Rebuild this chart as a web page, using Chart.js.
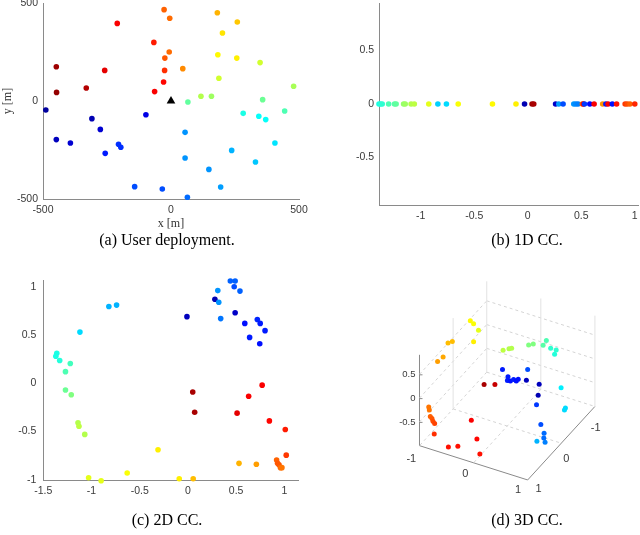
<!DOCTYPE html>
<html><head><meta charset="utf-8">
<script src="https://cdn.jsdelivr.net/npm/chart.js@4/dist/chart.umd.min.js"></script>
<style>
html,body{margin:0;padding:0;width:640px;height:535px;overflow:hidden;background:#fff;}
#wrap{position:relative;width:640px;height:535px;overflow:hidden;}
canvas{position:absolute;}
.cap{position:absolute;font-family:"Liberation Serif","Times New Roman",serif;font-size:16px;line-height:18px;color:#000;white-space:nowrap;transform:translateX(-50%);}
</style></head><body>
<div id="wrap">
<canvas id="ca" width="360" height="250" style="left:-20px;top:-15px"></canvas>
<canvas id="cb" width="340" height="250" style="left:320px;top:-15px"></canvas>
<canvas id="cc" width="360" height="280" style="left:-20px;top:265px"></canvas>
<canvas id="cd" width="300" height="250" style="left:340px;top:270px"></canvas>
<div class="cap" style="left:167px;top:231px">(a) User deployment.</div>
<div class="cap" style="left:527px;top:231px">(b) 1D CC.</div>
<div class="cap" style="left:167px;top:511px">(c) 2D CC.</div>
<div class="cap" style="left:527px;top:511px">(d) 3D CC.</div>
</div>
<script>
// ---------- (a) user deployment ----------
const A_X = [-27,-5,181,259,201,-210,-67,-7,-24,-25,46,183,257,348,187,479,117,158,358,66,444,282,343,370,406,55,55,237,330,148,194,64,-34,-142,-98,-205,-196,-257,-276,-309,-393,-448,-489,-448,-447,-331,-259,-29,-64];
const A_Y = [466,422,450,403,347,396,299,250,219,156,165,236,219,196,116,75,24,24,7,-5,-51,-63,-78,-95,-214,-160,-291,-252,-311,-349,-439,-491,-449,-437,-70,-221,-236,-267,-145,-90,-214,-197,-46,175,44,66,156,97,48];
const A_C = [0.78,0.77,0.7,0.68,0.65,0.88,0.85,0.77,0.79,0.83,0.74,0.63,0.64,0.58,0.58,0.54,0.55,0.53,0.48,0.47,0.45,0.4,0.38,0.38,0.35,0.27,0.27,0.3,0.32,0.27,0.28,0.23,0.2,0.2,0.1,0.17,0.17,0.15,0.08,0.05,0.08,0.06,0.03,0.97,0.98,0.95,0.9,0.87,0.88];
const BS_X = [0], BS_Y = [0];
const A_XTICKS = [-500,0,500], A_XLABELS = ['-500','0','500'];
const A_YTICKS = [-500,0,500], A_YLABELS = ['-500','0','500'];

// ---------- (b) 1D channel charting ----------
const B_X = [-1.39,-1.375,-1.36,-1.30,-1.245,-1.23,-1.16,-1.145,-1.09,-1.06,-0.925,-0.84,-0.76,-0.65,-0.33,-0.11,-0.03,0.04,0.056,0.26,0.29,0.33,0.43,0.45,0.47,0.51,0.52,0.53,0.58,0.62,0.70,0.73,0.75,0.79,0.83,0.91,0.93,0.955,1.0];
const B_C = [0.4,0.41,0.42,0.45,0.46,0.47,0.52,0.53,0.55,0.56,0.6,0.33,0.34,0.62,0.63,0.64,0.05,0.97,0.96,0.07,0.28,0.2,0.27,0.26,0.25,0.77,0.87,0.18,0.13,0.88,0.73,0.15,0.88,0.14,0.86,0.82,0.8,0.78,0.84];
const B_XTICKS = [-1,-0.5,0,0.5,1], B_XLABELS = ['-1','-0.5','0','0.5','1'];
const B_YTICKS = [-0.5,0,0.5], B_YLABELS = ['-0.5','0','0.5'];

// ---------- (c) 2D channel charting ----------
const C_X = [0.44,0.49,0.48,0.54,0.31,0.28,0.32,0.34,0.49,-0.01,0.59,0.72,0.75,0.80,0.64,0.745,-0.82,-0.74,-1.12,-1.36,-1.37,-1.33,-1.22,-1.27,-1.27,-1.21,-1.14,-1.13,-1.07,-1.03,-0.90,-0.63,-0.31,-0.09,0.055,0.53,0.71,0.92,0.93,0.945,0.96,0.975,1.02,1.01,0.845,0.51,0.63,0.77,0.05,0.07];
const C_Y = [1.06,1.06,1.00,0.955,0.96,0.87,0.84,0.67,0.73,0.69,0.62,0.66,0.62,0.545,0.475,0.41,0.795,0.81,0.53,0.31,0.28,0.235,0.205,0.12,-0.07,-0.12,-0.41,-0.445,-0.53,-0.98,-1.01,-0.93,-0.69,-0.99,-0.99,-0.83,-0.84,-0.795,-0.83,-0.845,-0.875,-0.875,-0.745,-0.48,-0.39,-0.31,-0.135,-0.02,-0.09,-0.30];
const C_C = [0.22,0.22,0.2,0.22,0.27,0.05,0.27,0.24,0.07,0.06,0.14,0.16,0.15,0.15,0.15,0.14,0.3,0.3,0.34,0.4,0.4,0.41,0.44,0.45,0.48,0.5,0.55,0.56,0.55,0.6,0.6,0.62,0.64,0.64,0.69,0.7,0.72,0.78,0.79,0.79,0.77,0.76,0.82,0.85,0.87,0.9,0.88,0.88,0.96,0.96];
const C_XTICKS = [-1.5,-1,-0.5,0,0.5,1], C_XLABELS = ['-1.5','-1','-0.5','0','0.5','1'];
const C_YTICKS = [-1,-0.5,0,0.5,1], C_YLABELS = ['-1','-0.5','0','0.5','1'];

// ---------- (d) 3D channel charting (projected view coordinates) ----------
const D_U = [470,473.3,478.3,473.3,447.3,451.7,436.7,442.3,503.3,509.3,512,529.3,534,544,547.3,551.7,557.3,555.7,502.7,528.3,508.3,507.7,510.7,514,516.7,518.7,527,484,495,540,539,537.3,562.3,566.7,565.7,427.7,428.3,429.3,431,432,433.7,433.3,471,476.7,447.7,457.3,479.7,541.7,545,544.7,546,537.7];
const D_V = [319.3,322.3,329,340.7,342,340.3,360.7,356.3,349.3,347.7,347.3,344,343,344.3,339.3,347.3,349,353.3,369,369,376.3,380.3,380.7,379.3,380.7,379,380,384.3,384.3,384,395.3,405,387.7,408.3,410.3,407.3,410.3,417,419,421.7,424,434.7,420.7,440,448,447.3,455.3,425,434,439,443.3,442.3];
const D_C = [0.63,0.62,0.6,0.64,0.69,0.69,0.72,0.71,0.56,0.55,0.55,0.5,0.5,0.46,0.45,0.42,0.42,0.41,0.15,0.2,0.15,0.15,0.14,0.15,0.14,0.14,0.06,0.96,0.93,0.06,0.05,0.18,0.36,0.34,0.34,0.76,0.76,0.78,0.79,0.8,0.81,0.83,0.88,0.87,0.86,0.86,0.86,0.2,0.23,0.23,0.25,0.3];
const D_XTICKS = [-1,0,1], D_XLABELS = ['-1','0','1'];
const D_YTICKS = [1,0,-1], D_YLABELS = ['1','0','-1'];
const D_ZTICKS = [0.5,0,-0.5], D_ZLABELS = ['0.5','0','-0.5'];

// ---------- styling / helpers ----------
const SANS = "'Liberation Sans', Arial, Helvetica, sans-serif";
const SERIF = "'Liberation Serif', 'Times New Roman', serif";
const AXIS = '#8a8a8a', TXT = '#3a3a3a';
function jet(t){
  const c = v => Math.round(255*Math.max(0, Math.min(1, v)));
  return 'rgb(' + c(1.5-Math.abs(4*t-3)) + ',' + c(1.5-Math.abs(4*t-2)) + ',' + c(1.5-Math.abs(4*t-1)) + ')';
}
function pts(xs, ys){ return xs.map((x,i)=>({x:x, y:ys[i]})); }
function axis(horizontal, min, max, ticks, labels, size, pad, title){
  return {
    type:'linear', min:min, max:max,
    afterBuildTicks: s => { s.ticks = ticks.map(v => ({value:v})); },
    afterFit: s => { if (horizontal) s.height = size; else s.width = size; },
    grid:{display:false, drawTicks:false},
    border:{display:true, color:AXIS, width:1},
    ticks:{autoSkip:false, maxRotation:0, padding:pad, color:TXT,
           font:{family:SANS, size:10.5}, callback:(v,i)=>labels[i]},
    title: title ? {display:true, text:title, color:'#333', font:{family:SERIF, size:12},
                    padding: horizontal ? {top:0,bottom:1} : {top:1,bottom:0}} : {display:false}
  };
}
const baseOpts = (pad, scales) => ({
  responsive:false, animation:false, devicePixelRatio:1,
  layout:{padding:pad},
  plugins:{legend:{display:false}, tooltip:{enabled:false}},
  scales:scales
});
const dotSet = (data, cs, r) => ({data:data, pointRadius:r, pointHoverRadius:r, borderWidth:0,
  backgroundColor:cs.map(jet), clip:false});

// (a)
new Chart(document.getElementById('ca'), {
  type:'scatter',
  data:{datasets:[
    {data:pts(BS_X,BS_Y), pointStyle:'triangle', pointRadius:5, backgroundColor:'#000', borderColor:'#000', borderWidth:0, clip:false},
    dotSet(pts(A_X,A_Y), A_C, 2.8)
  ]},
  options: baseOpts({left:20, top:18, right:41, bottom:3}, {
    x: axis(true, -500, 500, A_XTICKS, A_XLABELS, 33, 5, 'x [m]'),
    y: axis(false, -500, 500, A_YTICKS, A_YLABELS, 43, 5, 'y [m]')
  })
});

// (b)
new Chart(document.getElementById('cb'), {
  type:'scatter',
  data:{datasets:[ dotSet(pts(B_X, B_X.map(()=>0)), B_C, 2.8) ]},
  options: baseOpts({left:0, top:18, right:22, bottom:3}, {
    x: axis(true, -1.39, 1.03, B_XTICKS, B_XLABELS, 27, 5),
    y: axis(false, -0.944, 0.944, B_YTICKS, B_YLABELS, 59, 5)
  })
});

// (c)
new Chart(document.getElementById('cc'), {
  type:'scatter',
  data:{datasets:[ dotSet(pts(C_X,C_Y), C_C, 2.8) ]},
  options: baseOpts({left:20, top:15, right:41.7, bottom:39.3}, {
    x: axis(true, -1.5, 1.145, C_XTICKS, C_XLABELS, 25, 4.5),
    y: axis(false, -1.01, 1.07, C_YTICKS, C_YLABELS, 43.3, 7)
  })
});

// (d) 3D view frame (layout of the projected box)
const BOX = {L:[418.3,446.7], F:[528.3,481.7], R:[596.7,406.7], H:92.7, zMin:-1, zMax:0.91};
function floorPt(X, Y){
  const L=BOX.L, F=BOX.F, R=BOX.R;
  const a=(X+1)/2, b=(1-Y)/2;
  return [L[0]+a*(F[0]-L[0])+b*(R[0]-F[0]), L[1]+a*(F[1]-L[1])+b*(R[1]-F[1])];
}
function lift(p, z){ return {x:p[0], y:p[1]-(z-BOX.zMin)/(BOX.zMax-BOX.zMin)*BOX.H}; }
const segs = [];
function seg(a, b, color, dash){
  segs.push({type:'line', data:[a,b], borderColor:color, borderWidth:1, borderDash:dash||[],
             pointRadius:0, fill:false, clip:false, tension:0});
}
const GRID = '#d4d4d4', GRIDV = '#e2e2e2';
// vertical wall grid lines
[[ -1, 0],[ -1,-1],[0,-1],[1,-1]].forEach(([X,Y]) => seg(lift(floorPt(X,Y),BOX.zMin), lift(floorPt(X,Y),BOX.zMax), GRIDV));
// horizontal wall grid lines at z ticks
D_ZTICKS.forEach(z => {
  seg(lift(floorPt(-1,1),z), lift(floorPt(-1,-1),z), GRID, [3,3]);
  seg(lift(floorPt(-1,-1),z), lift(floorPt(1,-1),z), GRID, [3,3]);
});
// floor grid lines
seg(lift(floorPt(-1,-1),-1), lift(floorPt(-1,1),-1), GRID, [3,3]);
seg(lift(floorPt(-1,-1),-1), lift(floorPt(1,-1),-1), GRID, [3,3]);
seg(lift(floorPt(0,-1),-1), lift(floorPt(0,1),-1), GRID, [3,3]);
seg(lift(floorPt(-1,0),-1), lift(floorPt(1,0),-1), GRID, [3,3]);
// axes
seg(lift(floorPt(-1,1),-1), lift(floorPt(1,1),-1), '#8a8a8a');
seg(lift(floorPt(1,1),-1), lift(floorPt(1,-1),-1), '#8a8a8a');
seg(lift(floorPt(-1,1),BOX.zMin), lift(floorPt(-1,1),BOX.zMax), '#8a8a8a');

const D_XLABEL_POS = [[410,460],[465,476],[518.5,491.5]];
const D_YLABEL_POS = [[539.5,490.5],[567.5,460],[597.5,429]];
const labels3d = {
  id:'labels3d',
  afterDatasetsDraw(chart){
    const ctx = chart.ctx, sx = chart.scales.x, sy = chart.scales.y;
    ctx.save();
    ctx.fillStyle = TXT;
    ctx.textBaseline = 'middle';
    ctx.font = '9.5px ' + SANS;
    ctx.textAlign = 'right';
    D_ZTICKS.forEach((z,i) => {
      const p = lift(floorPt(-1,1), z);
      ctx.fillText(D_ZLABELS[i], sx.getPixelForValue(p.x) - 4, sy.getPixelForValue(p.y));
      ctx.strokeStyle = '#8a8a8a'; ctx.beginPath();
      ctx.moveTo(sx.getPixelForValue(p.x), sy.getPixelForValue(p.y)+0.5);
      ctx.lineTo(sx.getPixelForValue(p.x)+3, sy.getPixelForValue(p.y)+0.5); ctx.stroke();
    });
    ctx.font = '11px ' + SANS;
    ctx.textAlign = 'center';
    D_XLABELS.forEach((t,i) => ctx.fillText(t, sx.getPixelForValue(D_XLABEL_POS[i][0]), sy.getPixelForValue(D_XLABEL_POS[i][1])));
    D_YLABELS.forEach((t,i) => ctx.fillText(t, sx.getPixelForValue(D_YLABEL_POS[i][0]), sy.getPixelForValue(D_YLABEL_POS[i][1])));
    ctx.restore();
  }
};
new Chart(document.getElementById('cd'), {
  type:'scatter',
  data:{datasets:[ dotSet(pts(D_U,D_V), D_C, 2.5) ].concat(segs)},
  options: Object.assign(baseOpts(0, {
    x:{type:'linear', display:false, min:340, max:640},
    y:{type:'linear', display:false, min:270, max:520, reverse:true}
  })),
  plugins:[labels3d]
});
</script>
</body></html>
